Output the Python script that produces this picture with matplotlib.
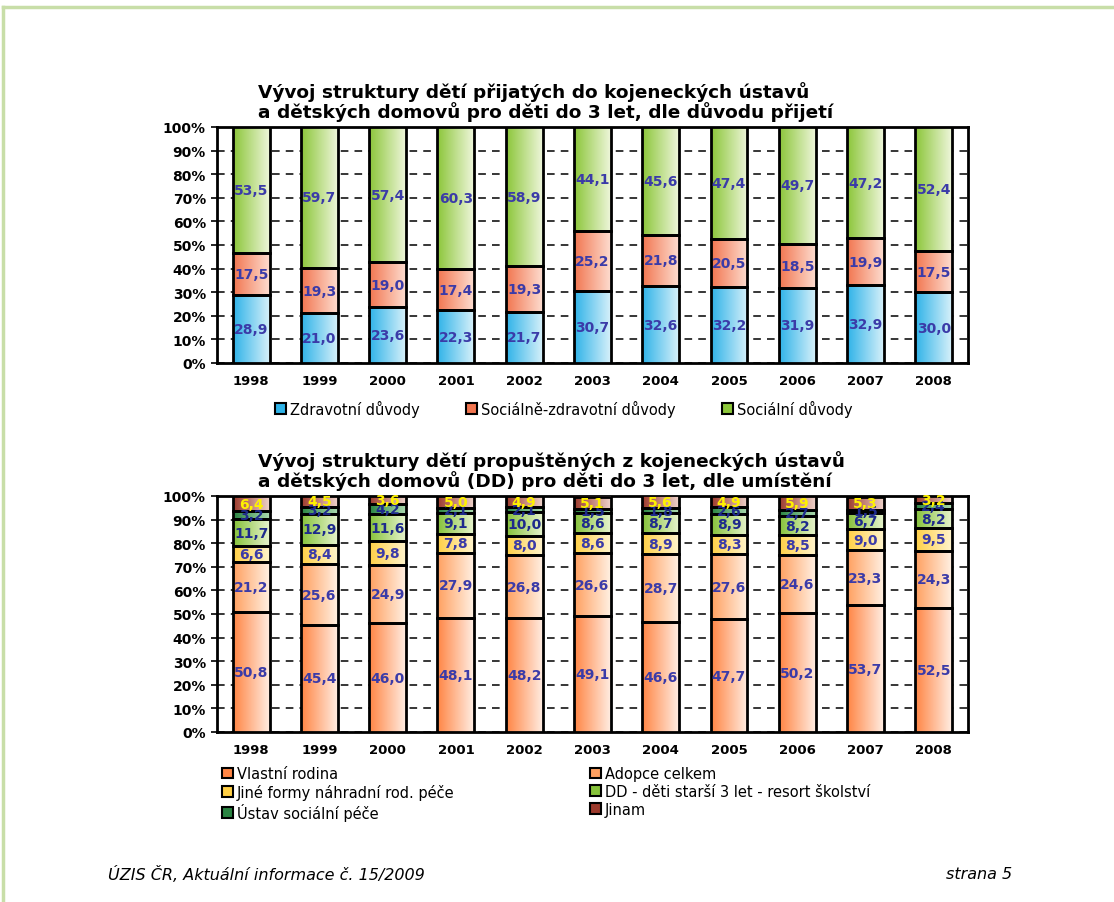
import numpy as np
import matplotlib.pyplot as plt
from matplotlib.colors import LinearSegmentedColormap
from matplotlib.patches import Patch
from matplotlib.lines import Line2D

years = ["1998", "1999", "2000", "2001", "2002", "2003", "2004", "2005", "2006", "2007", "2008"]

# admissions by reason (%)
zdravotni = [28.9, 21.0, 23.6, 22.3, 21.7, 30.7, 32.6, 32.2, 31.9, 32.9, 30.0]
soc_zdrav = [17.5, 19.3, 19.0, 17.4, 19.3, 25.2, 21.8, 20.5, 18.5, 19.9, 17.5]
socialni = [53.5, 59.7, 57.4, 60.3, 58.9, 44.1, 45.6, 47.4, 49.7, 47.2, 52.4]

# discharges by placement (%)
vlastni = [50.8, 45.4, 46.0, 48.1, 48.2, 49.1, 46.6, 47.7, 50.2, 53.7, 52.5]
adopce = [21.2, 25.6, 24.9, 27.9, 26.8, 26.6, 28.7, 27.6, 24.6, 23.3, 24.3]
jine = [6.6, 8.4, 9.8, 7.8, 8.0, 8.6, 8.9, 8.3, 8.5, 9.0, 9.5]
dd = [11.7, 12.9, 11.6, 9.1, 10.0, 8.6, 8.7, 8.9, 8.2, 6.7, 8.2]
ustav = [3.2, 3.2, 4.2, 2.1, 2.1, 1.5, 1.8, 2.6, 2.7, 1.5, 2.4]
jinam = [6.4, 4.5, 3.6, 5.0, 4.9, 5.1, 5.6, 4.9, 5.9, 5.3, 3.2]

top_series = [
    ("Zdravotní důvody", zdravotni, "#2FB3E8", "#D6F0FA", "#3B3BA8"),
    ("Sociálně-zdravotní důvody", soc_zdrav, "#F27650", "#FDDCCF", "#3B3BA8"),
    ("Sociální důvody", socialni, "#8CC63A", "#EEF6DA", "#3B3BA8"),
]
bottom_series = [
    ("Vlastní rodina", vlastni, "#FF8544", "#FFEDE2", "#3B3BA8"),
    ("Adopce celkem", adopce, "#FFA060", "#FFF0E2", "#3B3BA8"),
    ("Jiné formy náhradní rod. péče", jine, "#FFCF45", "#FFF4CC", "#3B3BA8"),
    ("DD - děti starší 3 let - resort školství", dd, "#86C23A", "#E6F3CC", "#1E2A8C"),
    ("Ústav sociální péče", ustav, "#2A8442", "#A9D9AE", "#1E2A8C"),
    ("Jinam", jinam, "#9C3A2C", "#EED2CA", "#FFF200"),
]

fig = plt.figure(figsize=(11.14, 9.03), dpi=100)

# page frame
fig.add_artist(Line2D([0.003, 1.0], [0.991, 0.991], color="#C8DEA8", lw=2.5))
fig.add_artist(Line2D([0.003, 0.003], [0.0, 0.991], color="#C8DEA8", lw=2.5))


def stacked(ax, series):
    x = np.arange(len(years))
    width = 0.54
    bottom = np.zeros(len(years))
    for name, vals, c_left, c_right, lab_col in series:
        vals = np.array(vals)
        bars = ax.bar(x, vals, width, bottom=bottom, facecolor="none",
                      edgecolor="black", linewidth=2, zorder=4)
        cmap = LinearSegmentedColormap.from_list(name, [c_left, c_right])
        grad = np.linspace(0, 1, 64).reshape(1, -1)
        for r in bars:
            ax.imshow(grad, cmap=cmap, aspect="auto", zorder=3,
                      extent=[r.get_x(), r.get_x() + r.get_width(),
                              r.get_y(), r.get_y() + r.get_height()])
        labels = [f"{v:.1f}".replace(".", ",") for v in vals]
        ax.bar_label(bars, labels=labels, label_type="center", color=lab_col,
                     fontsize=10, fontweight="bold", zorder=5)
        bottom += vals
    ax.set_xlim(-0.5, len(years) - 0.5)
    ax.set_ylim(0, 100)
    ax.set_xticks(x)
    ax.set_xticklabels(years, fontsize=9.5, fontweight="bold")
    ax.set_yticks(np.arange(0, 101, 10))
    ax.set_yticklabels([f"{t}%" for t in range(0, 101, 10)], fontsize=10, fontweight="bold")
    ax.tick_params(axis="x", length=0, pad=8)
    ax.tick_params(axis="y", length=4, width=1.2, pad=4)
    ax.yaxis.grid(True, color="black", linestyle=(0, (5, 4)), linewidth=1.1, zorder=1)
    ax.set_axisbelow(True)
    for s in ax.spines.values():
        s.set_linewidth(2)


ax1 = fig.add_axes([0.1948, 0.5969, 0.674, 0.2614])
stacked(ax1, top_series)
ax2 = fig.add_axes([0.1948, 0.1883, 0.674, 0.2614])
stacked(ax2, bottom_series)

fig.text(0.2316, 1 - 102 / 903, "Vývoj struktury dětí přijatých do kojeneckých ústavů\n"
         "a dětských domovů pro děti do 3 let, dle důvodu přijetí",
         fontsize=13.3, fontweight="bold", ha="left", va="center", linespacing=0.98)
fig.text(0.2316, 1 - 471 / 903, "Vývoj struktury dětí propuštěných z kojeneckých ústavů\n"
         "a dětských domovů (DD) pro děti do 3 let, dle umístění",
         fontsize=13.3, fontweight="bold", ha="left", va="center", linespacing=0.98)


def handle(s):
    return Patch(facecolor=s[2], edgecolor="black", linewidth=1.5)


fig.legend([handle(s) for s in top_series], [s[0] for s in top_series],
           loc="center", bbox_to_anchor=(0.506, 1 - 409 / 903), ncol=3,
           frameon=False, fontsize=10.5, handlelength=0.75, handleheight=0.75,
           handletextpad=0.25, columnspacing=3.2)

for col, x0 in ((0, 222 / 1114), (1, 590 / 1114)):
    items = bottom_series[col::2]
    fig.legend([handle(s) for s in items], [s[0] for s in items],
               loc="upper left", bbox_to_anchor=(x0, 1 - 767 / 903), ncol=1,
               frameon=False, fontsize=10.5, handlelength=0.75, handleheight=0.75,
               handletextpad=0.25, labelspacing=0.2, borderaxespad=0, borderpad=0)

fig.text(108 / 1114, 1 - 875 / 903, "ÚZIS ČR, Aktuální informace č. 15/2009",
         fontsize=11.5, style="italic", ha="left", va="center")
fig.text(1012 / 1114, 1 - 875 / 903, "strana 5",
         fontsize=11.5, style="italic", ha="right", va="center")

fig.savefig("out.png", dpi=100)
